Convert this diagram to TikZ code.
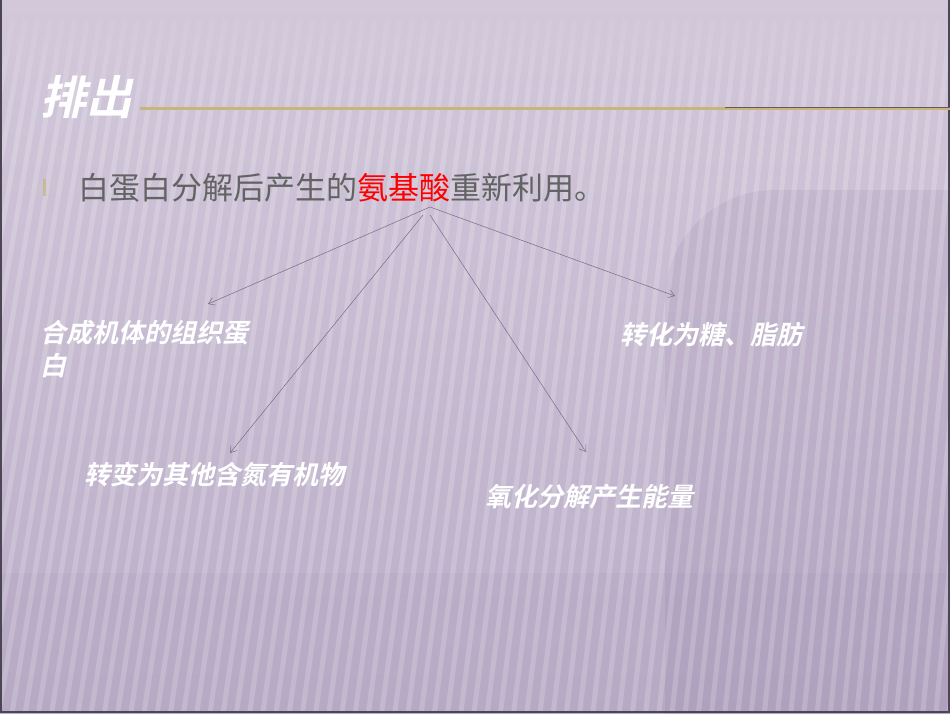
\documentclass[tikz,border=0pt]{standalone}
\usepackage{fontspec}
\newfontfamily\cjk{Noto Sans CJK SC}
\newfontfamily\cjkbi[FakeSlant=0.22]{Noto Sans CJK SC Bold}
\usetikzlibrary{arrows.meta}
\usetikzlibrary{fadings}
\definecolor{bgtop}{RGB}{210,200,218}
\definecolor{bgbot}{RGB}{186,173,200}
\definecolor{darkpurple}{RGB}{120,98,140}
\definecolor{linegold}{RGB}{201,181,122}
\definecolor{textgray}{RGB}{99,99,99}
\definecolor{arrowgray}{RGB}{118,110,128}
\definecolor{framegray}{RGB}{75,70,83}
\tikzfading[name=fadedown, top color=transparent!0, bottom color=transparent!100]

\begin{document}
\begin{tikzpicture}[x=1pt,y=-1pt,
  outtext/.style={text=white,font=\cjkbi\fontsize{26}{33}\selectfont,inner sep=0pt,anchor=west},
  branch/.style={draw=arrowgray,line width=0.5pt,-{Straight Barb[length=6pt,width=8pt]}},
  stripe/.style={white,opacity=0.18,line width=5pt}]
\useasboundingbox (0,0) rectangle (950,713);
% background
\shade[top color=bgtop,bottom color=bgbot] (0,0) rectangle (950,713);
\fill[darkpurple,opacity=0.10,rounded corners=110] (665,190) rectangle (1100,820);
\fill[darkpurple,opacity=0.05] (0,573) rectangle (950,713);
\foreach \i in {-2,...,84}
  \draw[stripe] (\i*12.5,20) -- (\i*12.5-120+\i*0.7,713);
\fill[bgtop,path fading=fadedown] (0,0) rectangle (950,110);
\draw[framegray,line width=2pt] (1,0) -- (1,712) -- (949,712) -- (949,0);
% title
\node (title) [font=\cjkbi\fontsize{46}{46}\selectfont,text=white,inner sep=0pt,anchor=west] at (40,97) {排出};
\draw[linegold,line width=3pt] (140,108) -- (950,108);
\draw[framegray!80!linegold,line width=1pt] (725,107) -- (950,107);
% text
\fill[linegold,opacity=0.7] (43,179) rectangle (46,196);
\node (src) [font=\cjk\fontsize{31}{31}\selectfont,text=textgray,inner sep=0pt,anchor=west] at (78,188) {白蛋白分解后产生的\textcolor{red}{氨基酸}重新利用。};
\node (protein) [outtext,align=left] at (40,349) {合成机体的组织蛋\\白};
\node (sugar) [outtext] at (620,335) {转化为糖、脂肪};
\node (other) [outtext] at (84,475) {转变为其他含氮有机物};
\node (energy) [outtext] at (485,497) {氧化分解产生能量};
% arrows
\coordinate (top) at (430,207);
\coordinate (topl) at (423,215);
\coordinate (topr) at (430,215);
\coordinate (toprotein) at (208,304);
\coordinate (toother) at (230,453);
\coordinate (tosugar) at (675,296);
\coordinate (toenergy) at (586,452);
\draw[branch] (top) -- (toprotein);
\draw[branch] (topl) -- (toother);
\draw[branch] (top) -- (tosugar);
\draw[branch] (topr) -- (toenergy);
\end{tikzpicture}
\end{document}
